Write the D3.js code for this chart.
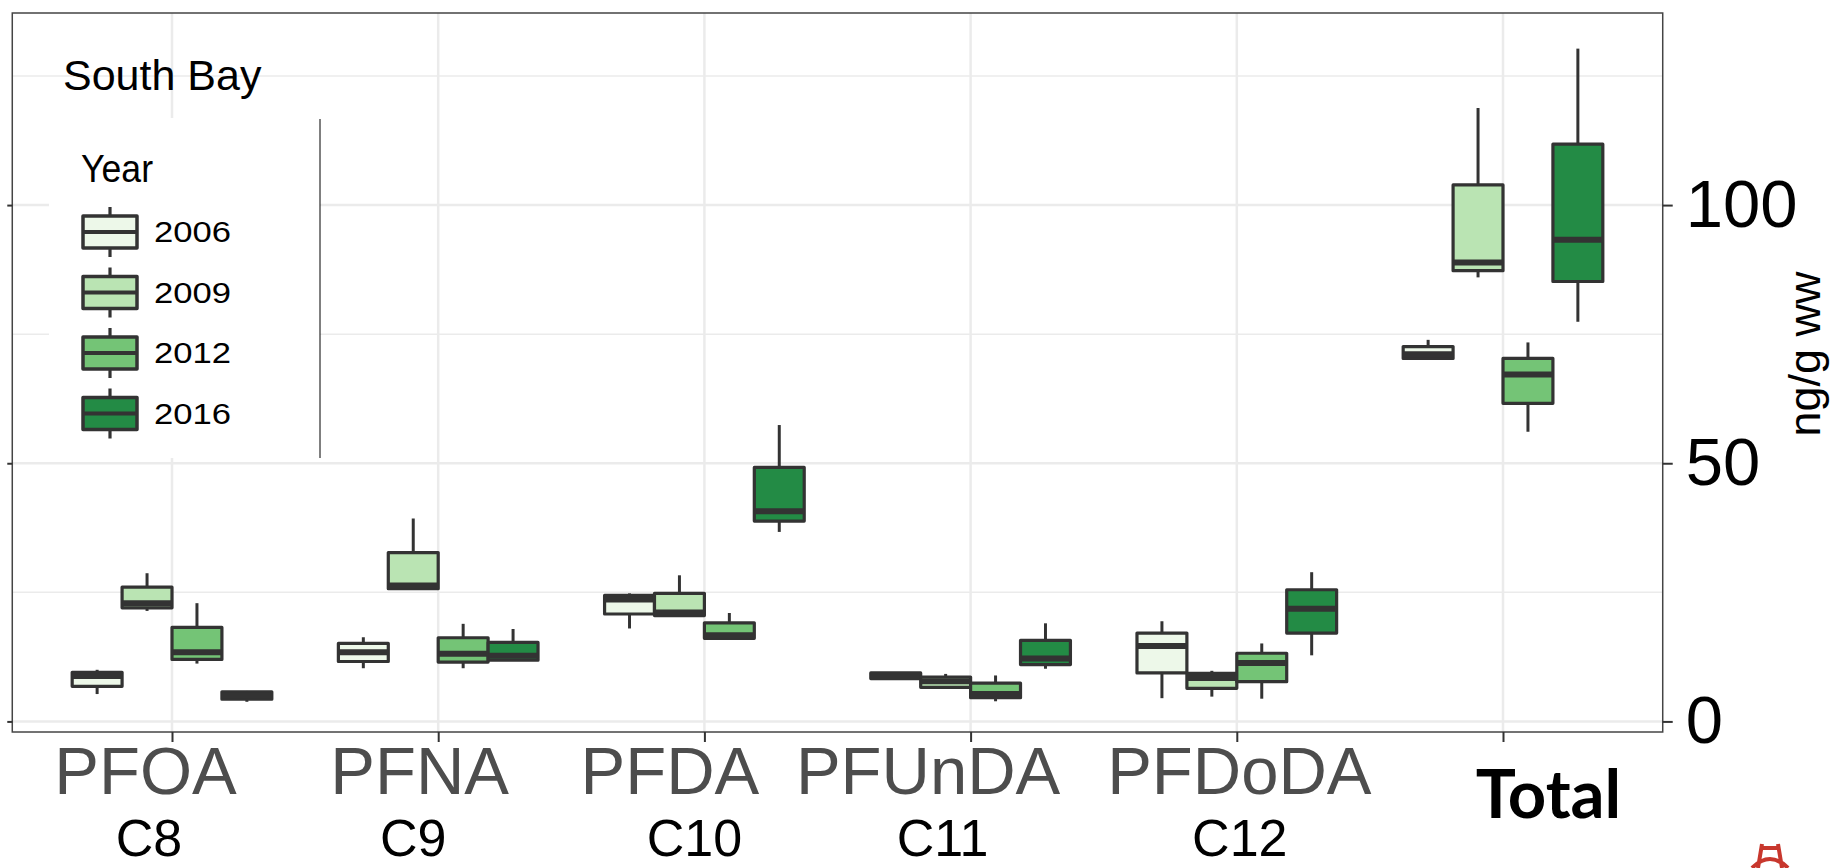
<!DOCTYPE html>
<html>
<head>
<meta charset="utf-8">
<script src="https://cdn.jsdelivr.net/npm/d3@7"></script>
<style>
  body { margin: 0; background: #fff; }
  svg { display: block; }
</style>
</head>
<body>
<svg id="chart"></svg>
<script>
// categories on the x axis, carbon chain labels under them
const categories = ["PFOA", "PFNA", "PFDA", "PFUnDA", "PFDoDA", "Total"];
const carbonLabels = ["C8", "C9", "C10", "C11", "C12"];
const years = ["2006", "2009", "2012", "2016"];
const yearColors = ["#edf8e9", "#bae4b3", "#74c476", "#238b45"];
const yTicks = [0, 50, 100];
const yMinorTicks = [25, 75, 125];

// [min, q1, median, q3, max] per category, one array per year (ng/g ww)
const stats2006 = [
  [5.3, 6.8, 8.8, 9.5, 10.0],
  [10.3, 11.6, 13.4, 15.1, 16.3],
  [18.0, 20.8, 23.6, 24.4, 24.8],
  [8.3, 8.3, 8.8, 9.4, 9.4],
  [4.5, 9.4, 14.6, 17.1, 19.4],
  [70.3, 70.3, 71.1, 72.6, 73.9]
];
const stats2009 = [
  [21.4, 22.0, 22.9, 26.0, 28.7],
  [25.6, 25.7, 26.3, 32.7, 39.3],
  [20.4, 20.5, 21.1, 24.8, 28.3],
  [6.6, 6.6, 7.8, 8.6, 9.2],
  [4.8, 6.4, 8.4, 9.3, 9.8],
  [86.0, 87.3, 88.9, 103.9, 118.8]
];
const stats2012 = [
  [11.2, 12.0, 13.4, 18.2, 22.9],
  [10.3, 11.5, 13.1, 16.2, 18.9],
  [15.8, 16.1, 16.7, 19.1, 21.0],
  [3.9, 4.6, 5.3, 7.4, 8.9],
  [4.4, 7.7, 11.3, 13.2, 15.1],
  [56.1, 61.6, 67.2, 70.3, 73.4]
];
const stats2016 = [
  [3.8, 4.3, 5.0, 5.75, 5.9],
  [11.8, 11.85, 12.7, 15.3, 17.9],
  [36.7, 38.8, 40.7, 49.2, 57.4],
  [10.2, 11.0, 12.2, 15.7, 19.0],
  [12.8, 17.1, 21.8, 25.5, 28.9],
  [77.4, 85.2, 93.3, 111.8, 130.3]
];
const allStats = [stats2006, stats2009, stats2012, stats2016];

// hand placed label nudges (the labels sit a little off their ticks)
const nameDx = [-27, -19, -35, -43, 2, 45];
const carbonDx = [-23, -25, -10, -28, 3];

const width = 1831, height = 868;
const svg = d3.select("#chart").attr("width", width).attr("height", height);

const x = d3.scalePoint().domain(categories).range([172, 1503]);
const step = x.step();
const panelLeft = x(categories[0]) - 0.6 * step;
const panelRight = x(categories[categories.length - 1]) + 0.6 * step;

const y = d3.scaleLinear().domain([-2.05, 137.2]).range([732, 13]);
const panelTop = y.range()[1], panelBottom = y.range()[0];

const boxW = 0.75 * step / years.length;
const ink = "#333333";
const sans = "Liberation Sans, Arial, sans-serif";

// grid
const grid = svg.append("g");
grid.selectAll(".minor").data(yMinorTicks).join("line")
  .attr("x1", panelLeft).attr("x2", panelRight)
  .attr("y1", d => y(d)).attr("y2", d => y(d))
  .attr("stroke", "#ebebeb").attr("stroke-width", 1.5);
grid.selectAll(".major").data(yTicks).join("line")
  .attr("x1", panelLeft).attr("x2", panelRight)
  .attr("y1", d => y(d)).attr("y2", d => y(d))
  .attr("stroke", "#ebebeb").attr("stroke-width", 2.5);
grid.selectAll(".vert").data(categories).join("line")
  .attr("x1", d => x(d)).attr("x2", d => x(d))
  .attr("y1", panelTop).attr("y2", panelBottom)
  .attr("stroke", "#ebebeb").attr("stroke-width", 2.5);

// boxes
const rows = [];
allStats.forEach((s, j) => {
  s.forEach((v, i) => {
    rows.push({ cat: categories[i], j: j, min: v[0], q1: v[1], med: v[2], q3: v[3], max: v[4] });
  });
});

const boxes = svg.append("g").selectAll("g").data(rows).join("g")
  .attr("transform", d => "translate(" + (x(d.cat) + (d.j - 1.5) * boxW) + ",0)");

boxes.append("line")
  .attr("y1", d => y(d.q3)).attr("y2", d => y(d.max))
  .attr("stroke", ink).attr("stroke-width", 3);
boxes.append("line")
  .attr("y1", d => y(d.q1)).attr("y2", d => y(d.min))
  .attr("stroke", ink).attr("stroke-width", 3);
boxes.append("rect")
  .attr("x", -boxW / 2).attr("width", boxW)
  .attr("y", d => y(d.q3)).attr("height", d => Math.max(0.5, y(d.q1) - y(d.q3)))
  .attr("fill", d => yearColors[d.j])
  .attr("stroke", ink).attr("stroke-width", 3.2).attr("stroke-linejoin", "round");
boxes.append("line")
  .attr("x1", -boxW / 2).attr("x2", boxW / 2)
  .attr("y1", d => y(d.med)).attr("y2", d => y(d.med))
  .attr("stroke", ink).attr("stroke-width", 6);

// legend, sits over the grid with a white background
const legend = svg.append("g");
legend.append("rect").attr("x", 49).attr("y", 118).attr("width", 271).attr("height", 340).attr("fill", "#fff");
legend.append("line").attr("x1", 320).attr("x2", 320).attr("y1", 119).attr("y2", 458)
  .attr("stroke", "#000").attr("stroke-width", 1);
legend.append("text").attr("x", 81).attr("y", 182)
  .attr("font-family", sans).attr("font-size", 38)
  .attr("textLength", 72).attr("lengthAdjust", "spacingAndGlyphs")
  .text("Year");

const keys = legend.selectAll(".key").data(years).join("g")
  .attr("transform", (d, i) => "translate(110," + (232 + 60.5 * i) + ")");
keys.append("line").attr("y1", -25).attr("y2", 25).attr("stroke", ink).attr("stroke-width", 3.2);
keys.append("rect").attr("x", -27).attr("y", -16).attr("width", 54).attr("height", 32)
  .attr("fill", (d, i) => yearColors[i]).attr("stroke", ink).attr("stroke-width", 3.5)
  .attr("stroke-linejoin", "round");
keys.append("line").attr("x1", -27).attr("x2", 27).attr("stroke", ink).attr("stroke-width", 4);
keys.append("text").attr("x", 44).attr("y", 10)
  .attr("font-family", sans).attr("font-size", 29)
  .attr("textLength", 77).attr("lengthAdjust", "spacingAndGlyphs")
  .text(d => d);

svg.append("text").attr("x", 63).attr("y", 90)
  .attr("font-family", sans).attr("font-size", 43)
  .text("South Bay");

// panel border
svg.append("rect").attr("x", panelLeft).attr("y", panelTop)
  .attr("width", panelRight - panelLeft).attr("height", panelBottom - panelTop)
  .attr("fill", "none").attr("stroke", "#444").attr("stroke-width", 1.5);

// left ticks, no labels
const leftAxis = svg.append("g").attr("transform", "translate(" + panelLeft + ",0)")
  .call(d3.axisLeft(y).tickValues(yTicks).tickSize(5).tickFormat(""));
leftAxis.select(".domain").remove();
leftAxis.selectAll("line").attr("stroke", ink).attr("stroke-width", 2);

// right axis with labels
const rightAxis = svg.append("g").attr("transform", "translate(" + panelRight + ",0)")
  .call(d3.axisRight(y).tickValues(yTicks).tickSize(10).tickPadding(13));
rightAxis.select(".domain").remove();
rightAxis.selectAll("line").attr("stroke", ink).attr("stroke-width", 2);
rightAxis.selectAll("text")
  .attr("font-family", sans).attr("font-size", 67)
  .attr("fill", "#000");

svg.append("text")
  .attr("transform", "translate(1820,354) rotate(-90)")
  .attr("text-anchor", "middle")
  .attr("font-family", sans).attr("font-size", 45)
  .text("ng/g ww");

// bottom axis: gray compound names, bold Total
const bottomAxis = svg.append("g").attr("transform", "translate(0," + panelBottom + ")")
  .call(d3.axisBottom(x).tickSize(10).tickPadding(0));
bottomAxis.select(".domain").remove();
bottomAxis.selectAll("line").attr("stroke", ink).attr("stroke-width", 2);
bottomAxis.selectAll("text")
  .attr("dy", null)
  .attr("x", (d, i) => nameDx[i])
  .attr("y", d => d === "Total" ? 86 : 62)
  .attr("font-family", d => d === "Total" ? "Lato, Open Sans, sans-serif" : sans)
  .attr("font-weight", d => d === "Total" ? "bold" : "normal")
  .attr("font-size", 67)
  .attr("fill", d => d === "Total" ? "#000" : "#4d4d4d");

svg.append("g").selectAll("text").data(carbonLabels).join("text")
  .attr("x", (d, i) => x(categories[i]) + carbonDx[i])
  .attr("y", 856)
  .attr("text-anchor", "middle")
  .attr("font-family", sans)
  .attr("font-size", 52)
  .text(d => d);

// small red bridge logo in the corner
const logo = svg.append("g").attr("transform", "translate(1750,840)")
  .attr("stroke", "#c8372d").attr("stroke-width", 4).attr("fill", "none");
logo.append("path").attr("d", "M8,28 L12,4 M32,28 L28,4 M10,8 L30,8 M2,28 Q20,10 38,28");
</script>
</body>
</html>
